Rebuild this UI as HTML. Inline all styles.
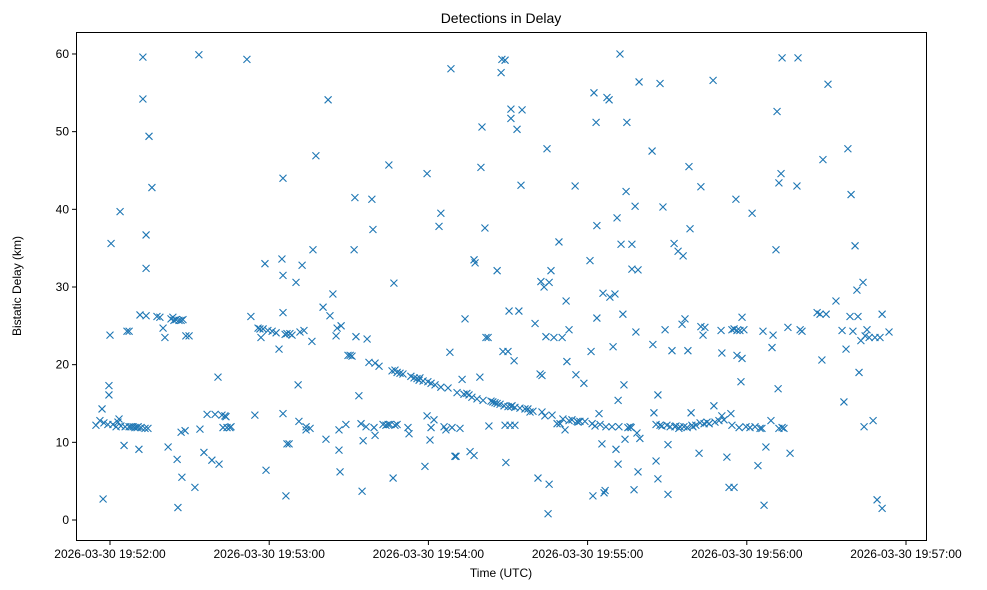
<!DOCTYPE html>
<html>
<head>
<meta charset="utf-8">
<style>
html,body{margin:0;padding:0;background:#fff;}
svg{display:block;font-family:"Liberation Sans",sans-serif;}
</style>
</head>
<body>
<svg id="chart" width="987" height="590" viewBox="0 0 987 590">
  <rect x="0" y="0" width="987" height="590" fill="#fff"/>
  <text x="501" y="23" text-anchor="middle" font-size="14" fill="#000">Detections in Delay</text>
  <g id="marks"></g>
  <g id="axes"></g>
  <rect x="76.5" y="32.5" width="850" height="508" fill="none" stroke="#000" stroke-width="1"/>
  <text x="501" y="577" text-anchor="middle" font-size="12" fill="#000">Time (UTC)</text>
  <text x="21" y="286" text-anchor="middle" font-size="12" fill="#000" transform="rotate(-90 21 286)">Bistatic Delay (km)</text>
</svg>
<script>
// seconds after 2026-03-30 19:51:00 UTC
const timeSec = [54.7,56.2,57.0,57.4,57.7,59.2,59.6,59.6,60.0,60.4,61.1,62.3,63.0,63.4,63.8,64.1,65.3,65.7,66.4,67.2,67.2,67.9,68.7,69.4,70.2,70.6,70.9,71.3,71.7,72.4,72.4,73.2,73.6,73.6,73.6,74.3,74.7,75.8,77.7,78.8,80.0,80.7,81.9,83.0,83.7,84.1,84.9,85.3,85.6,86.0,86.8,86.8,87.1,87.5,88.3,88.6,89.8,92.0,93.5,93.9,95.4,96.6,98.4,99.6,100.7,101.1,102.2,102.6,103.3,103.7,104.1,105.2,105.6,
111.6,113.1,114.6,115.8,116.5,116.9,117.7,118.4,118.8,119.5,121.1,122.6,123.7,124.8,125.2,125.2,125.2,125.2,126.0,126.3,126.7,126.7,127.5,127.8,128.6,130.1,130.9,131.2,131.6,132.4,133.1,133.9,133.9,135.4,136.1,136.5,137.6,140.3,141.4,142.2,142.9,144.0,145.2,145.6,146.3,146.7,146.3,147.1,148.9,149.7,150.5,151.2,152.0,152.3,152.7,153.8,154.6,155.0,155.4,156.5,156.9,157.6,158.7,159.1,159.5,159.9,159.9,161.4,162.9,164.0,164.8,165.1,165.5,166.3,166.7,167.0,167.4,167.4,168.2,168.2,169.3,170.4,172.3,172.7,173.4,174.6,175.7,176.5,176.8,178.0,178.7,179.5,179.5,179.8,180.6,181.0,181.0,182.1,182.5,184.0,184.7,184.7,185.9,186.6,187.4,188.1,188.5,188.9,190.0,190.4,190.8,191.9,192.7,193.4,193.8,194.5,195.3,195.7,196.4,197.2,197.2,197.6,198.3,199.4,199.8,200.2,200.6,201.3,201.7,202.5,202.8,203.6,204.3,205.1,205.9,205.9,207.0,207.4,207.7,208.1,208.5,208.9,208.9,209.2,210.0,210.0,210.4,210.8,211.1,211.1,211.1,211.5,212.3,212.6,212.6,213.4,214.1,214.5,214.9,215.3,216.4,217.5,218.3,219.4,220.2,221.3,222.1,222.4,222.8,222.8,223.6,223.9,224.3,224.7,225.1,225.5,225.5,226.2,226.6,227.3,228.5,229.2,229.6,230.4,230.7,231.5,231.9,232.2,233.0,233.0,234.1,235.3,235.6,236.0,236.4,237.1,238.6,239.0,
240.9,241.3,241.7,242.0,242.4,242.8,243.2,243.5,243.5,244.3,244.7,245.4,245.8,246.2,246.6,246.9,247.3,248.1,248.4,249.2,249.6,250.3,250.7,251.1,251.5,251.5,251.8,252.2,252.6,253.3,253.7,254.1,254.5,254.8,255.2,256.0,256.4,256.7,256.7,257.5,257.9,258.2,258.6,259.0,259.0,259.4,259.7,264.3,264.6,265.0,265.8,265.8,266.5,266.5,267.3,267.3,268.0,268.4,269.2,269.9,270.3,270.3,271.1,271.8,272.6,272.9,273.3,274.1,274.4,274.8,275.6,276.0,276.3,276.7,277.5,277.8,278.2,278.6,279.0,279.3,279.7,280.8,282.0,282.4,282.7,282.7,283.5,283.9,284.2,285.0,285.8,287.3,287.6,288.0,289.5,290.3,290.6,290.6,291.4,292.5,293.3,294.0,294.4,294.4,295.2,295.2,295.9,296.3,296.3,297.1,297.4,297.8,298.2,298.2,298.9,299.7,301.2,302.0,303.1,304.2,305.0,305.7,306.1,306.5,307.2,309.1,309.5,309.9,311.0,311.4,311.8,312.1,312.1,312.9,313.3,313.3,314.0,315.5,316.3,318.9,319.3,320.1,320.8,326.5,327.6,328.3,328.7,329.9,330.6,333.6,335.9,336.6,337.4,338.1,338.9,339.3,340.0,340.8,341.5,341.9,342.3,343.0,343.8,344.2,344.6,345.3,346.1,347.6,348.3,349.1,350.2,351.0,351.0,353.6];
const delayKm = [12.2,12.8,14.3,2.7,12.5,12.3,17.3,16.1,23.8,35.6,12.3,12.0,12.6,13.0,39.7,12.1,9.6,12.0,24.3,24.3,12.0,12.0,12.0,11.9,11.9,12.0,9.1,26.4,11.9,59.6,54.2,11.8,36.7,32.4,26.3,11.8,49.4,42.8,26.2,26.1,24.7,23.5,9.4,25.9,26.1,25.7,25.8,7.8,1.6,25.7,11.3,25.7,5.5,25.8,11.5,23.7,23.7,4.2,59.9,11.7,8.7,13.6,7.7,13.6,18.4,7.2,13.5,11.9,13.4,13.3,11.9,11.9,12.0,
59.3,26.2,13.5,24.7,24.6,23.5,24.6,33.0,6.4,24.4,24.3,24.1,22.0,33.6,31.5,26.7,13.7,44.0,23.9,3.1,9.8,24.0,9.8,24.0,23.8,30.6,17.4,12.7,24.2,32.8,24.4,12.0,11.6,11.8,23.0,34.8,46.9,27.4,10.4,54.1,26.3,29.1,23.7,24.7,9.0,6.2,11.6,25.0,12.3,21.2,21.2,21.1,34.8,41.5,23.6,16.0,12.4,3.7,10.2,12.0,23.3,20.3,41.3,37.4,11.9,20.2,10.9,19.8,12.3,12.2,12.3,45.7,12.3,19.2,5.4,30.5,12.2,19.3,19.0,12.3,18.9,18.8,11.9,11.1,18.5,18.3,18.2,18.0,18.3,17.9,6.9,13.4,44.6,17.8,10.3,17.6,11.9,12.9,17.4,37.8,39.5,17.1,12.0,11.6,17.0,21.6,58.1,11.9,8.2,8.2,16.4,11.8,18.1,16.2,25.9,16.3,16.1,8.8,15.8,8.3,33.5,33.1,15.6,18.4,45.4,50.6,15.4,37.6,23.5,23.5,12.1,15.3,15.2,15.1,32.1,15.0,14.9,57.6,59.3,21.7,14.7,59.2,12.2,7.4,21.7,14.6,26.9,12.2,52.9,51.7,14.6,14.7,20.5,14.5,12.2,50.3,26.9,14.4,43.1,52.8,14.3,14.3,13.9,14.0,25.3,5.4,18.8,30.7,13.9,18.6,30.0,13.4,23.6,47.8,0.8,4.6,30.6,32.1,13.5,23.5,12.4,35.8,12.4,23.5,13.0,11.6,28.2,20.4,24.5,12.8,12.9,43.0,18.7,12.7,12.6,12.7,17.6,12.7,
33.4,21.7,12.4,3.1,55.0,12.1,51.2,37.9,26.0,13.7,12.3,9.8,29.2,3.5,3.8,12.0,54.4,54.1,28.7,12.0,22.3,29.1,9.1,38.9,7.2,15.4,12.0,60.0,35.5,26.5,17.4,10.4,42.3,51.2,11.9,12.0,11.9,32.3,35.5,3.9,40.4,24.2,11.2,6.2,32.2,56.4,10.5,47.5,22.6,13.8,7.6,12.3,16.1,5.3,12.2,56.2,12.1,40.3,24.5,12.2,9.7,3.3,12.0,21.8,35.6,12.0,12.1,34.6,11.8,12.0,25.2,34.0,12.0,25.9,11.9,21.8,45.5,37.5,13.8,12.2,12.0,12.2,8.6,12.5,24.9,42.9,23.8,12.4,24.8,12.6,12.4,56.6,14.7,12.6,12.8,24.4,13.4,21.5,12.9,8.1,4.2,13.7,24.5,12.2,4.2,24.6,41.3,24.4,21.2,11.9,24.4,17.8,20.8,26.1,24.5,12.0,11.9,39.5,12.0,7.0,11.8,11.8,24.3,1.9,9.4,12.8,22.2,23.8,34.8,52.6,16.9,43.4,11.8,44.6,59.5,11.9,11.8,24.8,8.6,43.0,59.5,24.5,24.3,26.7,26.5,20.6,46.4,26.5,56.1,28.2,24.4,15.2,22.0,47.8,26.2,41.9,24.3,35.3,29.6,26.2,19.0,23.1,30.6,12.0,23.7,24.5,23.5,12.8,23.5,2.6,23.5,1.5,26.5,24.2];
const yTicks = [0,10,20,30,40,50,60];
const xTickSec = [60,120,180,240,300,360];
const xTickLabels = ["2026-03-30 19:52:00","2026-03-30 19:53:00","2026-03-30 19:54:00","2026-03-30 19:55:00","2026-03-30 19:56:00","2026-03-30 19:57:00"];

const NS = "http://www.w3.org/2000/svg";
function xScale(s){ return 110 + (s - 60) * 159.2 / 60; }
function yScale(v){ return 520 - v * 7.767; }

const marks = document.getElementById('marks');
const n = Math.min(timeSec.length, delayKm.length);
for (let i = 0; i < n; i++) {
  const cx = xScale(timeSec[i]), cy = yScale(delayKm[i]);
  const p = document.createElementNS(NS, 'path');
  p.setAttribute('d', `M${cx-3.5},${cy-3.5}L${cx+3.5},${cy+3.5}M${cx-3.5},${cy+3.5}L${cx+3.5},${cy-3.5}`);
  p.setAttribute('stroke', '#1f77b4');
  p.setAttribute('stroke-width', '1.1');
  p.setAttribute('fill', 'none');
  
  
  marks.appendChild(p);
}

const axes = document.getElementById('axes');
yTicks.forEach(v => {
  const y = yScale(v);
  const l = document.createElementNS(NS, 'line');
  l.setAttribute('x1', 72); l.setAttribute('x2', 76.5);
  l.setAttribute('y1', y); l.setAttribute('y2', y);
  l.setAttribute('stroke', '#000');
  
  
  axes.appendChild(l);
  const t = document.createElementNS(NS, 'text');
  t.setAttribute('x', 69); t.setAttribute('y', y + 4);
  t.setAttribute('text-anchor', 'end');
  t.setAttribute('font-size', '12');
  t.textContent = String(v);
  
  
  axes.appendChild(t);
});
xTickSec.forEach((s, i) => {
  const x = xScale(s);
  const l = document.createElementNS(NS, 'line');
  l.setAttribute('x1', x); l.setAttribute('x2', x);
  l.setAttribute('y1', 540.5); l.setAttribute('y2', 545);
  l.setAttribute('stroke', '#000');
  
  
  axes.appendChild(l);
  const t = document.createElementNS(NS, 'text');
  t.setAttribute('x', x); t.setAttribute('y', 558);
  t.setAttribute('text-anchor', 'middle');
  t.setAttribute('font-size', '12');
  t.textContent = xTickLabels[i];
  
  
  axes.appendChild(t);
});
</script>
</body>
</html>
